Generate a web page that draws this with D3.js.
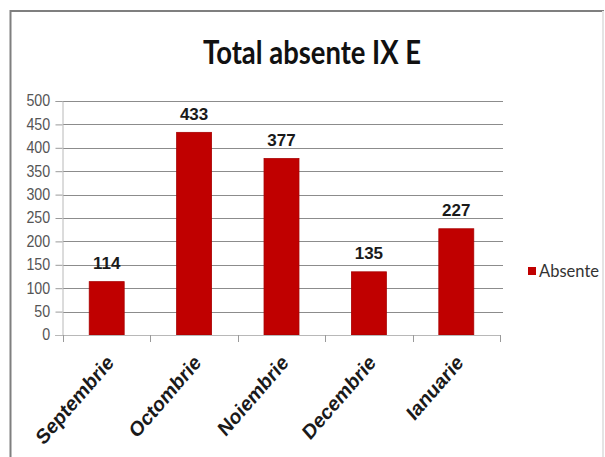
<!DOCTYPE html>
<html>
<head>
<meta charset="utf-8">
<script src="https://cdn.jsdelivr.net/npm/d3@7"></script>
<style>
  body { margin: 0; background: #fff; }
  svg { display: block; }
</style>
</head>
<body>
<script>
// data
var months = ["Septembrie", "Octombrie", "Noiembrie", "Decembrie", "Ianuarie"];
var absente = [114, 433, 377, 135, 227];
var yTicks = [0, 50, 100, 150, 200, 250, 300, 350, 400, 450, 500];
var seriesName = "Absente";
var title = "Total absente IX E";

var W = 605, H = 457;
var plot = {left: 63, right: 500, top: 101, bottom: 335};
var barColor = "#c00000";

var svg = d3.select("body").append("svg")
  .attr("width", W)
  .attr("height", H);

svg.append("rect").attr("width", W).attr("height", H).attr("fill", "#fff");

// chart frame (runs off the right and bottom edges)
svg.append("path")
  .attr("d", "M10.5," + (H + 5) + "V11H" + (W - 2) + "V" + (H + 5))
  .attr("fill", "none")
  .attr("stroke", "#7f7f7f")
  .attr("stroke-width", 2);
svg.select("path").clone()
  .attr("d", "M" + (W - 2) + ",11V" + (H + 5))
  .attr("stroke", "#e4e4e4");

// title
svg.append("text")
  .attr("x", 312)
  .attr("y", 64)
  .attr("text-anchor", "middle")
  .attr("textLength", 218)
  .attr("lengthAdjust", "spacingAndGlyphs")
  .style("font-family", "Lato, 'Open Sans', sans-serif")
  .style("font-weight", "bold")
  .style("font-size", "33px")
  .style("fill", "#111")
  .text(title);

// scales
var x = d3.scaleBand()
  .domain(months)
  .range([plot.left, plot.right])
  .paddingInner(0.6)
  .paddingOuter(0.3);

var xEdges = d3.scaleLinear()
  .domain([0, months.length])
  .range([plot.left, plot.right]);

var y = d3.scaleLinear()
  .domain([0, 500])
  .range([plot.bottom, plot.top]);

// gridlines
svg.append("g")
  .selectAll("line")
  .data(yTicks.slice(1))
  .enter().append("line")
  .attr("x1", plot.left)
  .attr("x2", plot.right + 3)
  .attr("y1", function(d) { return Math.round(y(d)) + 0.5; })
  .attr("y2", function(d) { return Math.round(y(d)) + 0.5; })
  .attr("stroke", "#8c8c8c")
  .attr("stroke-width", 1);

// y axis
var yAxis = d3.axisLeft(y)
  .tickValues(yTicks)
  .tickSize(7)
  .tickPadding(5);

var gy = svg.append("g")
  .attr("transform", "translate(" + (plot.left - 0.5) + ",0)")
  .call(yAxis);
gy.select(".domain").attr("stroke", "#b8b8b8");
gy.selectAll(".tick line").attr("stroke", "#9a9a9a");
gy.selectAll(".tick text")
  .style("font-family", "'Liberation Sans', Arial, sans-serif")
  .style("font-size", "15px")
  .style("fill", "#555")
  .attr("transform", "scale(0.95,1.1)")
  .attr("x", -13)
  .attr("dy", "0.3em");

// bars
svg.append("g")
  .selectAll("rect")
  .data(absente)
  .enter().append("rect")
  .attr("x", function(d, i) { return x(months[i]); })
  .attr("width", x.bandwidth())
  .attr("y", function(d) { return y(d); })
  .attr("height", function(d) { return y(0) - y(d); })
  .attr("fill", barColor)
  .attr("stroke", "#a80000")
  .attr("stroke-width", 0.8);

// value labels
svg.append("g")
  .selectAll("text")
  .data(absente)
  .enter().append("text")
  .attr("x", function(d, i) { return x(months[i]) + x.bandwidth() / 2; })
  .attr("y", function(d) { return y(d) - 12.5; })
  .attr("text-anchor", "middle")
  .style("font-family", "'Liberation Sans', Arial, sans-serif")
  .style("font-weight", "bold")
  .style("font-size", "17px")
  .style("fill", "#1a1a1a")
  .text(function(d) { return d; });

// category axis
var gx = svg.append("g");
gx.append("line")
  .attr("x1", plot.left - 7)
  .attr("x2", plot.right)
  .attr("y1", plot.bottom + 0.5)
  .attr("y2", plot.bottom + 0.5)
  .attr("stroke", "#b8b8b8");
gx.selectAll(".edge")
  .data(d3.range(months.length + 1))
  .enter().append("line")
  .attr("class", "edge")
  .attr("x1", function(d) { return Math.round(xEdges(d)) + 0.5; })
  .attr("x2", function(d) { return Math.round(xEdges(d)) + 0.5; })
  .attr("y1", plot.bottom)
  .attr("y2", plot.bottom + 7)
  .attr("stroke", "#9a9a9a");

gx.selectAll(".cat")
  .data(months)
  .enter().append("text")
  .attr("class", "cat")
  .attr("text-anchor", "end")
  .attr("transform", function(d) {
    return "translate(" + (x(d) + x.bandwidth() / 2 + 8) + "," + (plot.bottom + 29) + ") scale(1,1.15) rotate(-45)";
  })
  .style("font-family", "'Liberation Sans', Arial, sans-serif")
  .style("font-weight", "bold")
  .style("font-size", "18.5px")
  .style("fill", "#1a1a1a")
  .text(function(d) { return d; });

// legend
var legend = svg.append("g").attr("transform", "translate(528,267)");
legend.append("rect")
  .attr("width", 8)
  .attr("height", 8)
  .attr("fill", barColor);
legend.append("text")
  .attr("x", 11)
  .attr("y", 10)
  .attr("textLength", 60)
  .attr("lengthAdjust", "spacingAndGlyphs")
  .style("font-family", "Lato, 'Open Sans', sans-serif")
  .style("font-size", "17px")
  .style("fill", "#333")
  .text(seriesName);
</script>
</body>
</html>
